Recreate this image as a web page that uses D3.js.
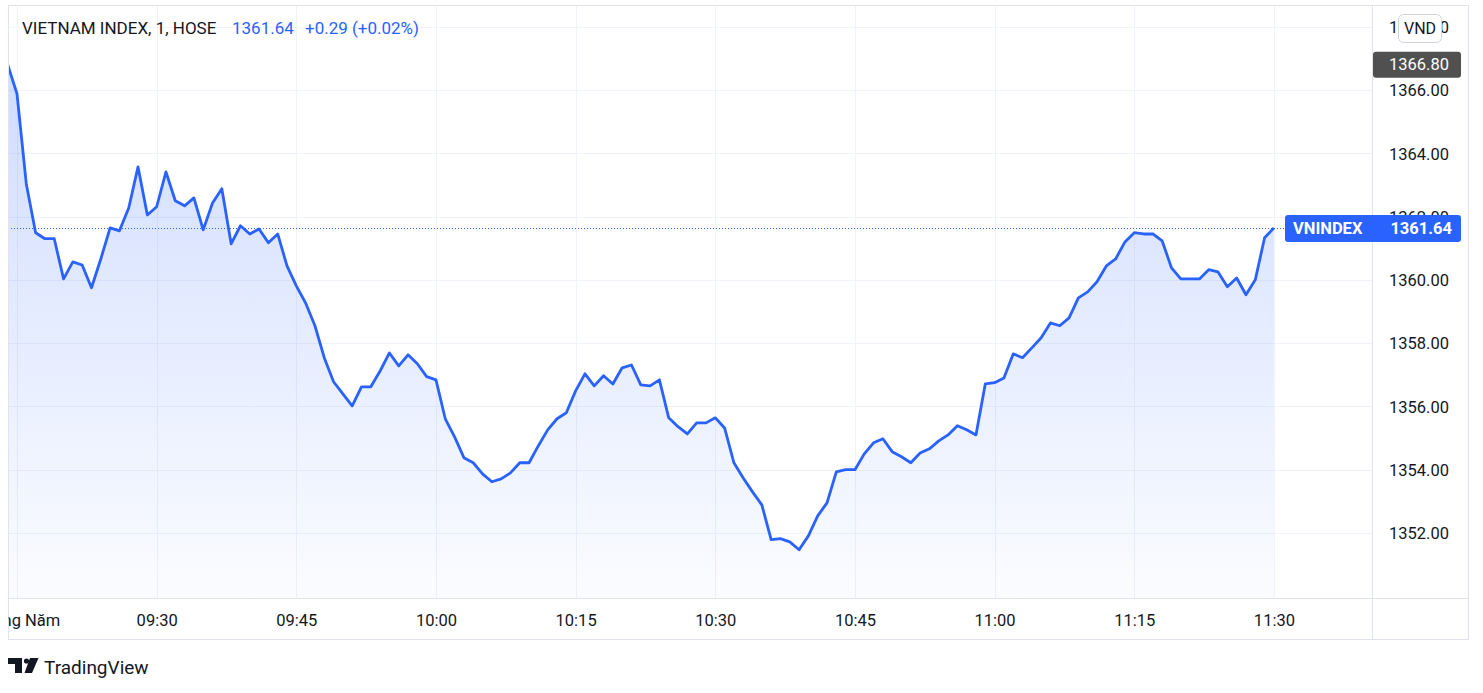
<!DOCTYPE html>
<html>
<head>
<meta charset="utf-8">
<script src="https://cdn.jsdelivr.net/npm/d3@7"></script>
<style>
  html, body { margin: 0; padding: 0; background: #fff; }
  svg { display: block; font-family: Roboto, "Noto Sans", sans-serif; }
</style>
</head>
<body>
<svg id="chart" width="1483" height="693"></svg>
<script>
// 1-minute closes of VN-Index, morning session, starting 09:14
var startTime = '09:14';
var closes = [
  1366.80, 1365.88, 1363.03, 1361.49, 1361.30, 1361.30, 1360.03, 1360.57, 1360.47, 1359.75,
  1360.66, 1361.64, 1361.55, 1362.27, 1363.57, 1362.05, 1362.31, 1363.41, 1362.50, 1362.34,
  1362.59, 1361.58, 1362.43, 1362.88, 1361.14, 1361.71, 1361.45, 1361.61, 1361.17, 1361.45,
  1360.44, 1359.81, 1359.27, 1358.55, 1357.54, 1356.78, 1356.40, 1356.02, 1356.62, 1356.62,
  1357.12, 1357.69, 1357.28, 1357.63, 1357.35, 1356.94, 1356.84, 1355.61, 1355.04, 1354.38,
  1354.22, 1353.87, 1353.62, 1353.71, 1353.90, 1354.22, 1354.22, 1354.76, 1355.26, 1355.61,
  1355.80, 1356.49, 1357.03, 1356.65, 1356.97, 1356.71, 1357.22, 1357.31, 1356.68, 1356.65,
  1356.84, 1355.64, 1355.36, 1355.13, 1355.48, 1355.48, 1355.64, 1355.32, 1354.22, 1353.74,
  1353.30, 1352.89, 1351.79, 1351.82, 1351.72, 1351.47, 1351.91, 1352.54, 1352.95, 1353.93,
  1354.00, 1354.00, 1354.50, 1354.85, 1354.98, 1354.57, 1354.41, 1354.22, 1354.53, 1354.66,
  1354.91, 1355.10, 1355.39, 1355.26, 1355.10, 1356.71, 1356.75, 1356.90, 1357.66, 1357.54,
  1357.85, 1358.17, 1358.64, 1358.55, 1358.80, 1359.43, 1359.62, 1359.94, 1360.44, 1360.66,
  1361.20, 1361.49, 1361.45, 1361.45, 1361.23, 1360.38, 1360.03, 1360.03, 1360.03, 1360.32,
  1360.25, 1359.78, 1360.06, 1359.53, 1360.00, 1361.33, 1361.64
];
var priceTicks = [1352, 1354, 1356, 1358, 1360, 1362, 1364, 1366, 1368];
var timeTicks = ['09:15', '09:30', '09:45', '10:00', '10:15', '10:30', '10:45', '11:00', '11:15', '11:30'];
var timeTickLabels = ['Tháng Năm', '09:30', '09:45', '10:00', '10:15', '10:30', '10:45', '11:00', '11:15', '11:30'];
var markLevel = 1366.80;
var lastPrice = 1361.64;
var titleText = 'VIETNAM INDEX, 1, HOSE';
var changeText = '+0.29 (+0.02%)';
var symbolLabel = 'VNINDEX';
var currencyLabel = 'VND';

var blue = '#2962FF', ink = '#131722', grid = '#f0f3fa', border = '#e0e3eb';

var toMin = function(s) { var p = s.split(':'); return +p[0] * 60 + +p[1]; };
var t0 = toMin(startTime);
var series = closes.map(function(v, i) { return { t: t0 + i, v: v }; });

// pane geometry
var pane = { left: 8, top: 5, right: 1372, bottom: 598 };
var axisRight = 1468, axisBottom = 639;

var svg = d3.select('#chart');

var x = d3.scaleLinear().domain([toMin('09:15'), toMin('11:30')]).range([17, 1273.9]);
var y = d3.scaleLinear().domain([1352, 1366]).range([533, 90]);

var defs = svg.append('defs');
defs.append('clipPath').attr('id', 'paneClip')
    .append('rect')
    .attr('x', pane.left).attr('y', pane.top)
    .attr('width', pane.right - pane.left).attr('height', pane.bottom - pane.top);
defs.append('clipPath').attr('id', 'timeClip')
    .append('rect')
    .attr('x', pane.left + 0.5).attr('y', pane.bottom)
    .attr('width', pane.right - pane.left).attr('height', axisBottom - pane.bottom);

var grad = defs.append('linearGradient').attr('id', 'areaFill')
    .attr('gradientUnits', 'userSpaceOnUse')
    .attr('x1', 0).attr('x2', 0)
    .attr('y1', y(d3.max(closes))).attr('y2', pane.bottom);
grad.append('stop').attr('offset', 0).attr('stop-color', blue).attr('stop-opacity', 0.22);
grad.append('stop').attr('offset', 1).attr('stop-color', blue).attr('stop-opacity', 0.02);

// grid
var gGrid = svg.append('g').attr('clip-path', 'url(#paneClip)');
gGrid.selectAll('.hgrid').data(priceTicks).enter().append('line')
    .attr('x1', pane.left).attr('x2', pane.right)
    .attr('y1', function(d) { return Math.round(y(d)) + 0.5; })
    .attr('y2', function(d) { return Math.round(y(d)) + 0.5; })
    .attr('stroke', grid);
gGrid.selectAll('.vgrid').data(timeTicks).enter().append('line')
    .attr('y1', pane.top).attr('y2', pane.bottom)
    .attr('x1', function(d) { return Math.round(x(toMin(d))) + 0.5; })
    .attr('x2', function(d) { return Math.round(x(toMin(d))) + 0.5; })
    .attr('stroke', grid);

// area + line
var gPlot = svg.append('g').attr('clip-path', 'url(#paneClip)');
var area = d3.area()
    .x(function(d) { return x(d.t); })
    .y0(pane.bottom)
    .y1(function(d) { return y(d.v); });
var line = d3.line()
    .x(function(d) { return x(d.t); })
    .y(function(d) { return y(d.v); });

gPlot.append('path').datum(series).attr('d', area).attr('fill', 'url(#areaFill)');
gPlot.append('line')
    .attr('x1', pane.left).attr('x2', pane.right)
    .attr('y1', Math.round(y(lastPrice)) + 0.5).attr('y2', Math.round(y(lastPrice)) + 0.5)
    .attr('stroke', blue).attr('stroke-width', 1).attr('stroke-dasharray', '1,2');
gPlot.append('path').datum(series).attr('d', line)
    .attr('fill', 'none').attr('stroke', blue).attr('stroke-width', 2.8)
    .attr('stroke-linejoin', 'round');

// frame
svg.append('rect')
    .attr('x', pane.left + 0.5).attr('y', pane.top + 0.5)
    .attr('width', axisRight - pane.left).attr('height', axisBottom - pane.top)
    .attr('fill', 'none').attr('stroke', border);
svg.append('line')
    .attr('x1', pane.right + 0.5).attr('x2', pane.right + 0.5)
    .attr('y1', pane.top).attr('y2', axisBottom)
    .attr('stroke', border);
svg.append('line')
    .attr('x1', pane.left).attr('x2', axisRight)
    .attr('y1', pane.bottom + 0.5).attr('y2', pane.bottom + 0.5)
    .attr('stroke', border);

// price axis
var yAxis = d3.axisRight(y).tickValues(priceTicks).tickSize(0).tickPadding(0)
    .tickFormat(d3.format('.2f'));
var gY = svg.append('g').attr('transform', 'translate(1389,0)').call(yAxis);
gY.select('.domain').remove();
gY.selectAll('text').attr('fill', ink).style('font-size', '16.5px')
    .style('font-family', 'Roboto, sans-serif').attr('x', 0).attr('dy', '0.35em');

// time axis (first label is clipped by the pane's left edge, like the original)
var xAxis = d3.axisBottom(x).tickValues(timeTicks.map(toMin)).tickSize(0).tickPadding(0)
    .tickFormat(function(d, i) { return timeTickLabels[i]; });
var gX = svg.append('g').attr('clip-path', 'url(#timeClip)')
    .append('g').attr('transform', 'translate(0,620)')
    .call(xAxis);
gX.select('.domain').remove();
gX.selectAll('text').attr('fill', ink).style('font-size', '16.5px')
    .style('font-family', 'Roboto, sans-serif').attr('y', 0).attr('dy', '0.35em');

// dark level label
var markY = y(markLevel);
svg.append('rect').attr('x', pane.right + 1).attr('y', markY - 13)
    .attr('width', 88).attr('height', 26).attr('rx', 3).attr('fill', '#505050');
svg.append('text').attr('x', 1389).attr('y', markY).attr('dy', '0.35em')
    .attr('fill', '#fff').style('font-size', '16.5px').text(d3.format('.2f')(markLevel));

// symbol / last price label
var lastY = y(lastPrice);
svg.append('rect').attr('x', 1285).attr('y', lastY - 13)
    .attr('width', 176).attr('height', 27).attr('rx', 3).attr('fill', blue);
svg.append('text').attr('x', 1293).attr('y', lastY).attr('dy', '0.36em')
    .attr('fill', '#fff').style('font-size', '16.5px').style('font-weight', 'bold')
    .text(symbolLabel);
svg.append('text').attr('x', 1452).attr('y', lastY).attr('dy', '0.36em')
    .attr('text-anchor', 'end')
    .attr('fill', '#fff').style('font-size', '16.5px').style('font-weight', 'bold')
    .text(d3.format('.2f')(lastPrice));

// currency box over top tick
svg.append('rect').attr('x', 1398.5).attr('y', 14.5).attr('width', 43).attr('height', 28)
    .attr('rx', 5).attr('fill', '#fff').attr('stroke', '#d1d4dc');
svg.append('text').attr('x', 1420).attr('y', 28.5).attr('dy', '0.35em')
    .attr('text-anchor', 'middle').attr('fill', ink).style('font-size', '16px')
    .text(currencyLabel);

// legend
var legend = svg.append('text').attr('x', 22).attr('y', 28).attr('dy', '0.35em')
    .style('font-size', '17px');
legend.append('tspan').attr('fill', ink).text(titleText);
legend.append('tspan').attr('x', 232).attr('fill', blue).text(d3.format('.2f')(lastPrice));
legend.append('tspan').attr('x', 305).attr('fill', blue).text(changeText);

// TradingView mark
var logo = svg.append('g').attr('fill', ink);
logo.append('path').attr('d', 'M8,658 H22 V673 H15 V664 H8 Z');
logo.append('circle').attr('cx', 26.5).attr('cy', 661).attr('r', 2.6);
logo.append('path').attr('d', 'M30,658 H38.5 L32,673 H24.5 Z');
svg.append('text').attr('x', 44).attr('y', 674).attr('fill', ink)
    .style('font-size', '19px').text('TradingView');
</script>
</body>
</html>
